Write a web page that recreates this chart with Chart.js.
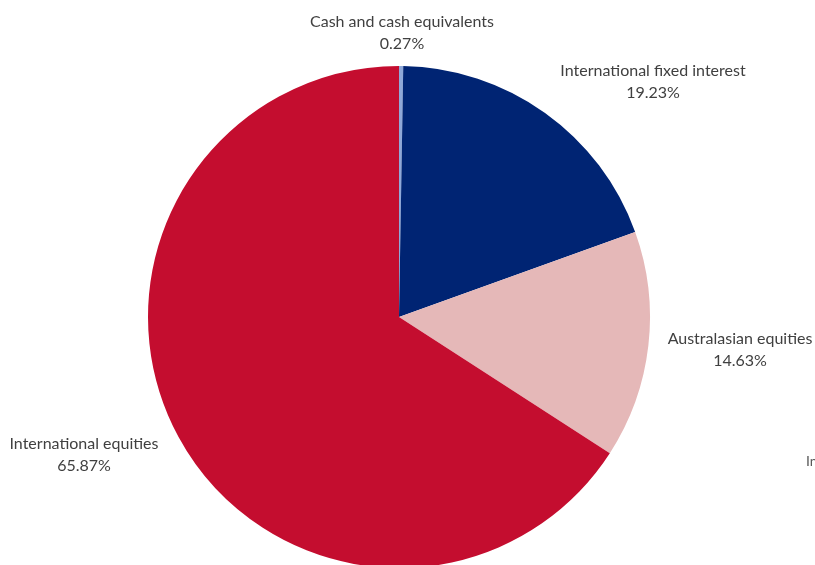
<!DOCTYPE html>
<html>
<head>
<meta charset="utf-8">
<script src="https://cdn.jsdelivr.net/npm/chart.js@4.4.0/dist/chart.umd.min.js"></script>
<style>
  html, body { margin: 0; padding: 0; background: #fff; overflow: hidden; }
  #wrap { position: relative; width: 815px; height: 570px; }
</style>
</head>
<body>
<div id="wrap"><canvas id="pieChart"></canvas></div>
<script>
const categories = ['Cash and cash equivalents', 'International fixed interest', 'Australasian equities', 'International equities'];
const shares = [0.27, 19.23, 14.63, 65.87];
const sliceColors = ['#8FA8D8', '#002473', '#E5B8B8', '#C40D2F'];

// label anchor points (center of the two-line text block), in canvas px
const labelSpots = [
  { x: 402, y: 33 },
  { x: 653, y: 82 },
  { x: 740, y: 350 },
  { x: 84, y: 455 }
];

const sliceLabels = {
  id: 'sliceLabels',
  afterDraw(chart) {
    const ctx = chart.ctx;
    ctx.save();
    ctx.font = '16px Lato, "Open Sans", sans-serif';
    ctx.fillStyle = '#404040';
    ctx.textAlign = 'center';
    ctx.textBaseline = 'middle';
    categories.forEach((name, i) => {
      const p = labelSpots[i];
      ctx.fillText(name, p.x, p.y - 11);
      ctx.fillText(shares[i].toFixed(2) + '%', p.x, p.y + 11);
    });
    // clipped label peeking in at the right edge
    ctx.textAlign = 'left';
    ctx.fillStyle = '#595959';
    ctx.font = '14px Lato, "Open Sans", sans-serif';
    ctx.fillText('International equities', 806, 461);
    ctx.restore();
  }
};

document.addEventListener('DOMContentLoaded', () => {
  const ctx = document.getElementById('pieChart').getContext('2d');
  new Chart(ctx, {
    type: 'pie',
    data: {
      labels: categories,
      datasets: [{
        data: shares,
        backgroundColor: sliceColors,
        borderWidth: 0
      }]
    },
    options: {
      responsive: true,
      maintainAspectRatio: false,
      animation: false,
      layout: { padding: { top: 66, bottom: 2, left: 148, right: 165 } },
      plugins: {
        legend: { display: false },
        tooltip: { enabled: false }
      }
    },
    plugins: [sliceLabels]
  });
});
</script>
</body>
</html>
